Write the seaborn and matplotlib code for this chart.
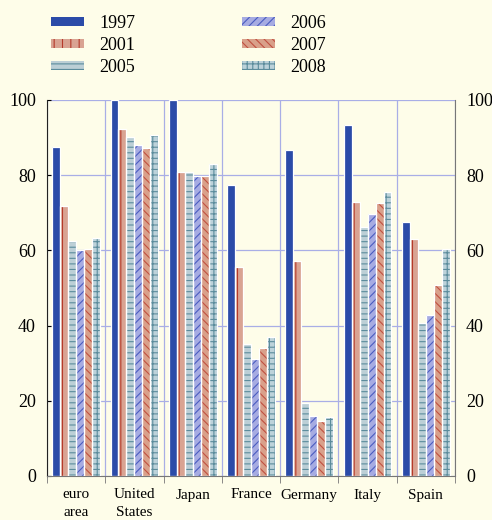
import pandas as pd
import matplotlib.pyplot as plt
import matplotlib.patches as mpatches
import seaborn as sns
import numpy as np

countries = ['euro\narea', 'United\nStates', 'Japan', 'France', 'Germany', 'Italy', 'Spain']
years = ['1997', '2001', '2005', '2006', '2007', '2008']

v1997 = [87.5, 100.0, 100.0, 77.4, 86.7, 93.4, 67.6]
v2001 = [71.8, 92.3, 80.9, 55.6, 57.2, 72.9, 63.0]
v2005 = [62.5, 90.2, 80.9, 35.1, 19.4, 66.2, 40.7]
v2006 = [60.1, 88.0, 79.8, 31.1, 16.0, 69.7, 42.8]
v2007 = [60.4, 87.2, 79.8, 34.0, 14.6, 72.6, 50.8]
v2008 = [63.3, 90.7, 83.0, 37.0, 15.7, 75.5, 60.4]

faces = ['#2b4ba8', '#d9a392', '#bccfd6', '#a6abe2', '#d9a08a', '#bcd2da']
hatch_cols = ['#2b4ba8', '#b53a2a', '#5b8c9c', '#4a5cc0', '#c05040', '#5b8c9c']
hatches = ['', '||', '---', '////', '\\\\\\\\', '+++']

bg = '#fefde9'
grid_col = '#a9aee6'

series = [v1997, v2001, v2005, v2006, v2007, v2008]
rows = []
for y, vals in zip(years, series):
    for c, v in zip(countries, vals):
        rows.append({'country': c, 'year': y, 'value': v})
df = pd.DataFrame(rows)

plt.rcParams['font.family'] = ['Liberation Serif', 'DejaVu Serif']
plt.rcParams['hatch.linewidth'] = 0.8

fig = plt.figure(figsize=(4.92, 5.2), dpi=100, facecolor=bg)
ax = fig.add_axes([47 / 492, 1 - 476 / 520, 408 / 492, 376 / 520])
ax.set_facecolor(bg)

sns.barplot(data=df, x='country', y='value', hue='year', palette=faces,
            width=0.82, saturation=1, legend=False, ax=ax, zorder=2)

# hatch colour comes from the edge colour; white outlines drawn on top
for i, cont in enumerate(ax.containers):
    for p in cont.patches:
        p.set_hatch(hatches[i])
        p.set_edgecolor(hatch_cols[i])
        p.set_linewidth(0)
        ax.add_patch(mpatches.Rectangle((p.get_x(), p.get_y()), p.get_width(), p.get_height(),
                                        fill=False, edgecolor='white', linewidth=0.9, zorder=3))

ax.set_xlim(-0.5, 6.5)
ax.set_ylim(0, 100)
ax.set_yticks(np.arange(0, 101, 20))
ax.set_xticks(np.arange(-0.5, 7, 1), minor=True)
ax.grid(axis='y', which='major', color=grid_col, linewidth=0.9, zorder=0)
ax.grid(axis='x', which='minor', color=grid_col, linewidth=0.9, zorder=0)
ax.grid(axis='x', which='major', visible=False)
ax.set_axisbelow(True)

ax.set_xlabel('')
ax.set_ylabel('')
ax.tick_params(axis='x', which='major', length=0, pad=9, labelsize=11)
ax.tick_params(axis='x', which='minor', length=5, direction='out', color='#777777')
ax.tick_params(axis='y', which='major', left=True, right=False, labelleft=True, labelright=True,
               direction='in', length=3, labelsize=13, pad=8)
for lbl in ax.get_xticklabels():
    lbl.set_linespacing(1.4)

ax.spines['top'].set_visible(False)
ax.spines['left'].set_color('#222222')
ax.spines['right'].set_color('#777777')
ax.spines['bottom'].set_color('#777777')

handles = [mpatches.Patch(facecolor=faces[i], edgecolor=hatch_cols[i], linewidth=0,
                          hatch=hatches[i], label=years[i]) for i in range(len(years))]
fig.legend(handles=handles, ncol=2, loc='upper left', bbox_to_anchor=(0.071, 1.002),
           frameon=False, fontsize=13, handlelength=1.83, handleheight=0.4,
           handletextpad=0.83, labelspacing=0.27, columnspacing=5.9)

fig.savefig('out.png', dpi=100, facecolor=bg)
